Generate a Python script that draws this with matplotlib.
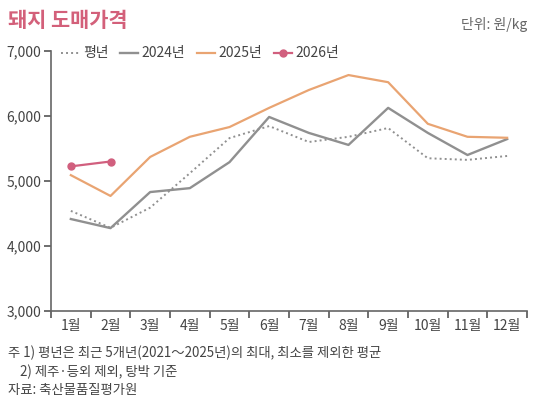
import numpy as np
import matplotlib
matplotlib.use("Agg")
import matplotlib.pyplot as plt

plt.rcParams['font.family'] = ['Noto Sans CJK KR', 'DejaVu Sans']

months = ["1월", "2월", "3월", "4월", "5월", "6월", "7월", "8월", "9월", "10월", "11월", "12월"]
avg_year = [4540, 4280, 4590, 5120, 5660, 5845, 5600, 5680, 5815, 5350, 5325, 5385]
y2024 = [4415, 4275, 4830, 4890, 5290, 5985, 5740, 5555, 6125, 5740, 5400, 5645]
y2025 = [5090, 4770, 5370, 5680, 5830, 6125, 6400, 6630, 6520, 5880, 5680, 5665]
y2026 = [5225, 5300]

c_title = "#d3607a"
c_gray = "#909090"
c_orange = "#e9a472"
c_pink = "#d15f7e"
c_text = "#444444"


def main():
    fig = plt.figure(figsize=(5.33, 4.0), dpi=100)
    ax = fig.add_axes([0.0957, 0.2225, 0.893, 0.65])

    x = np.arange(len(months))
    ax.plot(x, avg_year, color=c_gray, lw=1.4, ls=(0, (1, 1.6)), label="평년")
    ax.plot(x, y2024, color=c_gray, lw=1.7, label="2024년")
    ax.plot(x, y2025, color=c_orange, lw=1.6, label="2025년")
    ax.plot(np.arange(len(y2026)), y2026, color=c_pink, lw=1.6, marker="o",
            ms=5, label="2026년")

    ax.set_xlim(-0.5, len(months) - 0.5)
    ax.set_ylim(3000, 7000)
    ax.set_yticks([3000, 4000, 5000, 6000, 7000])
    ax.set_yticklabels([f"{v:,}" for v in [3000, 4000, 5000, 6000, 7000]])
    ax.set_xticks(np.arange(-0.5, len(months), 1.0))
    ax.set_xticklabels([])
    ax.set_xticks(x, minor=True)
    ax.set_xticklabels(months, minor=True)
    ax.tick_params(axis="x", which="major", length=5, width=1.2, color="#555555")
    ax.tick_params(axis="x", which="minor", length=0, pad=6, labelsize=10,
                   labelcolor=c_text)
    ax.tick_params(axis="y", length=5, width=1.2, color="#555555", labelsize=10,
                   labelcolor=c_text, pad=2)

    for s in ["top", "right"]:
        ax.spines[s].set_visible(False)
    for s in ["left", "bottom"]:
        ax.spines[s].set_color("#666666")
        ax.spines[s].set_linewidth(1.2)

    ax.legend(loc="upper left", bbox_to_anchor=(0.0, 1.055), ncol=4,
              frameon=False, fontsize=10, handlelength=1.3,
              handletextpad=0.3, columnspacing=0.8, labelcolor=c_text,
              borderaxespad=0.3)

    fig.text(0.015, 0.948, "돼지 도매가격", fontsize=15, fontweight="bold",
             color=c_title, va="center")
    fig.text(0.99, 0.94, "단위: 원/kg", fontsize=10, color="#666666",
             ha="right", va="center")
    fig.text(0.015, 0.118, "주 1) 평년은 최근 5개년(2021～2025년)의 최대, 최소를 제외한 평균",
             fontsize=9.6, color=c_text, va="center")
    fig.text(0.015, 0.07, "    2) 제주·등외 제외, 탕박 기준",
             fontsize=9.6, color=c_text, va="center")
    fig.text(0.015, 0.025, "자료: 축산물품질평가원",
             fontsize=9.6, color=c_text, va="center")

    fig.savefig("out.png", dpi=100)


if __name__ == "__main__":
    main()
